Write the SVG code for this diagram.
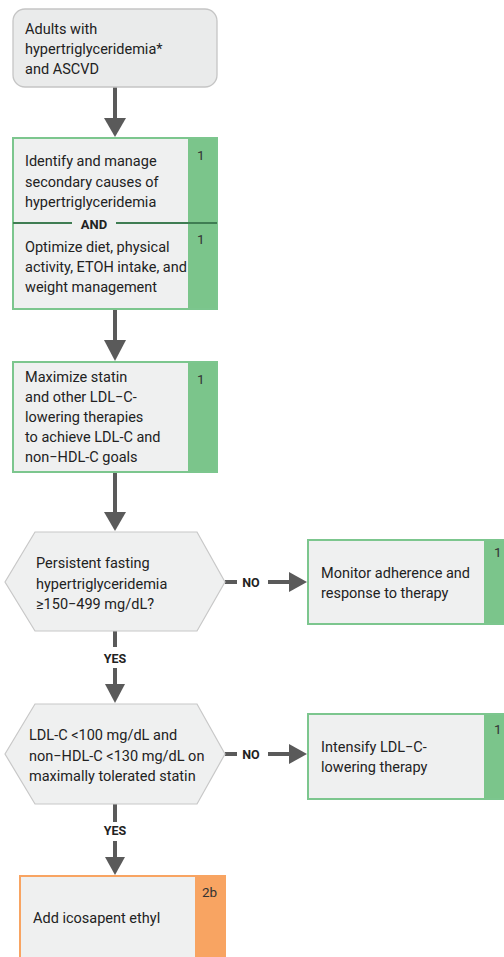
<svg xmlns="http://www.w3.org/2000/svg" width="504" height="957" viewBox="0 0 504 957">
<defs>
<style>
.t{font-family:Roboto,"Liberation Sans",sans-serif;font-size:14.5px;fill:#222}
.n{font-family:Roboto,"Liberation Sans",sans-serif;font-size:13.5px;fill:#333}
.b{font-family:Roboto,"Liberation Sans",sans-serif;font-size:12.5px;font-weight:bold;fill:#222}
.gbox{fill:#eff0f0;stroke:#7cc68e;stroke-width:2}
.gs{fill:#7bc58b}
.hex{fill:#eff0f0;stroke:#c8c8c8;stroke-width:1.2}
.ln{stroke:#5a5a5a;stroke-width:4;fill:none}
.hd{fill:#5a5a5a}
</style>
</defs>
<rect width="504" height="957" fill="#ffffff"/>

<g id="connectors">
<line class="ln" x1="115" y1="87" x2="115" y2="120"/>
<polygon class="hd" points="104,118 126,118 115,137"/>
<line class="ln" x1="115" y1="309" x2="115" y2="342"/>
<polygon class="hd" points="104,340 126,340 115,361"/>
<line class="ln" x1="115" y1="472" x2="115" y2="514"/>
<polygon class="hd" points="104,512 126,512 115,531"/>
<line class="ln" x1="115" y1="631" x2="115" y2="647"/>
<text class="b" x="115" y="663" text-anchor="middle">YES</text>
<line class="ln" x1="115" y1="668" x2="115" y2="686"/>
<polygon class="hd" points="105,684 125,684 115,703"/>
<line class="ln" x1="115" y1="804" x2="115" y2="822"/>
<text class="b" x="115" y="835" text-anchor="middle">YES</text>
<line class="ln" x1="115" y1="841" x2="115" y2="859"/>
<polygon class="hd" points="105,857 125,857 115,875"/>
<line class="ln" x1="225" y1="582" x2="237" y2="582"/>
<text class="b" x="251" y="586.5" text-anchor="middle">NO</text>
<line class="ln" x1="268" y1="582" x2="291" y2="582"/>
<polygon class="hd" points="289,572 289,592 307,582"/>
<line class="ln" x1="225" y1="754" x2="237" y2="754"/>
<text class="b" x="251" y="758.5" text-anchor="middle">NO</text>
<line class="ln" x1="268" y1="754" x2="291" y2="754"/>
<polygon class="hd" points="289,744 289,764 307,754"/>
</g>

<g id="start">
<rect x="13" y="9" width="204" height="78" rx="12" fill="#eaebeb" stroke="#c5c5c5" stroke-width="1.3"/>
<text class="t" x="25" y="34">Adults with</text>
<text class="t" x="25" y="54">hypertriglyceridemia*</text>
<text class="t" x="25" y="74">and ASCVD</text>
</g>

<g id="manage">
<rect class="gbox" x="13" y="138" width="204" height="171"/>
<rect class="gs" x="188" y="139" width="28" height="169"/>
<line x1="13" y1="223" x2="72" y2="223" stroke="#3f7d53" stroke-width="2"/>
<line x1="116" y1="223" x2="217" y2="223" stroke="#3f7d53" stroke-width="2"/>
<text class="b" x="94" y="228.5" text-anchor="middle" style="font-size:13px">AND</text>
<text class="t" x="25" y="166">Identify and manage</text>
<text class="t" x="25" y="187">secondary causes of</text>
<text class="t" x="25" y="207">hypertriglyceridemia</text>
<text class="n" x="197" y="160">1</text>
<text class="t" x="25" y="252">Optimize diet, physical</text>
<text class="t" x="25" y="272">activity, ETOH intake, and</text>
<text class="t" x="25" y="292">weight management</text>
<text class="n" x="197" y="244">1</text>
</g>

<g id="maximize">
<rect class="gbox" x="13" y="362" width="204" height="110"/>
<rect class="gs" x="188" y="363" width="28" height="108"/>
<text class="t" x="25" y="382">Maximize statin</text>
<text class="t" x="25" y="402">and other LDL−C-</text>
<text class="t" x="25" y="422">lowering therapies</text>
<text class="t" x="25" y="442">to achieve LDL-C and</text>
<text class="t" x="25" y="462">non−HDL-C goals</text>
<text class="n" x="197" y="384">1</text>
</g>

<g id="decision1">
<polygon class="hex" points="5,582 35,532 197,532 225,582 197,631 35,631"/>
<text class="t" x="36" y="568">Persistent fasting</text>
<text class="t" x="36" y="589">hypertriglyceridemia</text>
<text class="t" x="36" y="609">≥150−499 mg/dL?</text>
</g>

<g id="monitor">
<rect class="gbox" x="308" y="540" width="220" height="84"/>
<rect class="gs" x="484" y="541" width="40" height="82"/>
<text class="t" x="321" y="578">Monitor adherence and</text>
<text class="t" x="321" y="598">response to therapy</text>
<text class="n" x="494" y="557">1</text>
</g>

<g id="decision2">
<polygon class="hex" points="5,754 35,704 197,704 225,754 197,804 35,804"/>
<text class="t" x="29" y="740">LDL-C &lt;100 mg/dL and</text>
<text class="t" x="29" y="761">non−HDL-C &lt;130 mg/dL on</text>
<text class="t" x="29" y="781">maximally tolerated statin</text>
</g>

<g id="intensify">
<rect class="gbox" x="308" y="714" width="220" height="85"/>
<rect class="gs" x="484" y="715" width="40" height="83"/>
<text class="t" x="321" y="752">Intensify LDL−C-</text>
<text class="t" x="321" y="772">lowering therapy</text>
<text class="n" x="494" y="734">1</text>
</g>

<g id="icosapent">
<rect x="20" y="876" width="205" height="100" fill="#eff0f0" stroke="#f8a462" stroke-width="2"/>
<rect x="195" y="877" width="29" height="98" fill="#f8a462"/>
<text class="t" x="33" y="923">Add icosapent ethyl</text>
<text class="n" x="202" y="897">2b</text>
</g>
</svg>
